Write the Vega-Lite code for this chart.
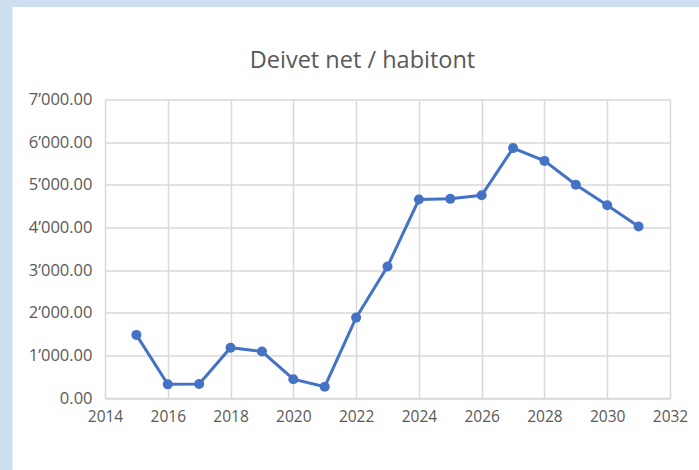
{
  "$schema": "https://vega.github.io/schema/vega-lite/v6.json",
  "width": 565,
  "height": 298.5,
  "autosize": {"type": "none"},
  "padding": {"left": 105, "top": 99.5, "right": 29, "bottom": 72},
  "background": "#cfdff2",
  "title": {
    "text": "Deivet net / habitont",
    "font": "Open Sans",
    "fontSize": 23.5,
    "fontWeight": "normal",
    "color": "#595959",
    "anchor": "middle",
    "frame": "group",
    "baseline": "alphabetic",
    "offset": 0,
    "dx": -25
  },
  "data": {
    "values": [
      {"year": 2015, "value": 1480},
      {"year": 2016, "value": 320},
      {"year": 2017, "value": 330},
      {"year": 2018, "value": 1180},
      {"year": 2019, "value": 1090},
      {"year": 2020, "value": 440},
      {"year": 2021, "value": 265},
      {"year": 2022, "value": 1885},
      {"year": 2023, "value": 3085},
      {"year": 2024, "value": 4655},
      {"year": 2025, "value": 4670},
      {"year": 2026, "value": 4755},
      {"year": 2027, "value": 5860},
      {"year": 2028, "value": 5560},
      {"year": 2029, "value": 5000},
      {"year": 2030, "value": 4520},
      {"year": 2031, "value": 4020}
    ]
  },
  "mark": {"type": "line", "color": "#4472C4", "strokeWidth": 3, "point": {"filled": true, "size": 100, "color": "#4472C4"}},
  "encoding": {
    "x": {
      "field": "year",
      "type": "quantitative",
      "scale": {"domain": [2014, 2032], "nice": false, "zero": false},
      "axis": {
        "title": null,
        "values": [2014, 2016, 2018, 2020, 2022, 2024, 2026, 2028, 2030, 2032],
        "format": "d",
        "ticks": false,
        "domain": true,
        "domainColor": "#d9d9d9",
        "domainWidth": 1.5,
        "grid": true,
        "gridColor": "#d9d9d9",
        "gridWidth": 1.5,
        "labelFont": "Open Sans",
        "labelFontSize": 15.5,
        "labelColor": "#595959",
        "labelPadding": 11,
        "labelFlush": false
      }
    },
    "y": {
      "field": "value",
      "type": "quantitative",
      "scale": {"domain": [0, 7000], "nice": false},
      "axis": {
        "title": null,
        "values": [0, 1000, 2000, 3000, 4000, 5000, 6000, 7000],
        "labelExpr": "replace(format(datum.value, ',.2f'), ',', '’')",
        "ticks": false,
        "domain": false,
        "grid": true,
        "gridColor": "#d9d9d9",
        "gridWidth": 1.5,
        "labelFont": "Open Sans",
        "labelFontSize": 16.5,
        "labelColor": "#595959",
        "labelPadding": 13,
        "labelFlush": false
      }
    }
  },
  "config": {
    "view": {"fill": "white", "stroke": "white", "strokeWidth": 185}
  }
}
